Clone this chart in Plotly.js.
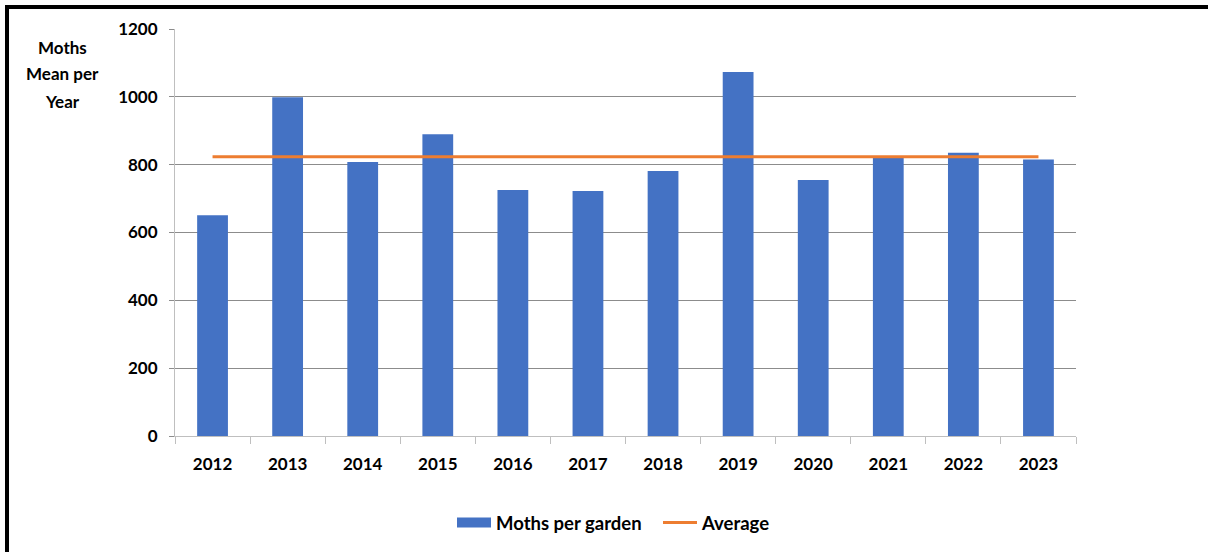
<!DOCTYPE html>
<html>
<head>
<meta charset="utf-8">
<script src="https://cdn.plot.ly/plotly-3.0.1.min.js"></script>
<style>
html,body{margin:0;padding:0;background:#fff;}
#chart{position:absolute;left:0;top:0;width:1208px;height:552px;}
#frame{position:absolute;left:5px;top:5px;width:1203px;height:547px;border-top:4px solid #000;border-left:4px solid #000;pointer-events:none;box-sizing:border-box;}
</style>
</head>
<body>
<div id="chart"></div>
<div id="frame"></div>
<script>
const years = ["2012","2013","2014","2015","2016","2017","2018","2019","2020","2021","2022","2023"];
const mothsPerGarden = [651, 999, 808, 890, 725, 722, 781, 1073, 755, 820, 835, 815];
const averageValue = [823, 823, 823, 823, 823, 823, 823, 823, 823, 823, 823, 823];
const yTicks = [0, 200, 400, 600, 800, 1000, 1200];
const yTitleLines = ["Moths", "Mean per", "Year"];

const font = "Lato, 'Open Sans', sans-serif";
const BLUE = "#4472C4", ORANGE = "#ED7D31";

const traces = [
  {type: "bar", x: years, y: mothsPerGarden, name: "Moths per garden",
   marker: {color: BLUE}, showlegend: false},
  // legend key for the bars (wide rectangle like the original)
  {type: "scatter", mode: "lines", x: [null], y: [null], name: "Moths per garden",
   line: {color: BLUE, width: 12}, showlegend: true, legend: "legend"},
  {type: "scatter", mode: "lines", x: years, y: averageValue, name: "Average",
   line: {color: ORANGE, width: 3}, showlegend: true, legend: "legend2"}
];

const titleYs = [0.955, 0.891, 0.823];
const annotations = yTitleLines.map((t, i) => ({
  text: t, xref: "paper", yref: "paper",
  x: -0.1254, y: titleYs[i], xanchor: "center", yanchor: "middle",
  showarrow: false, align: "center",
  font: {family: font, size: 17, color: "#000", weight: "bold"}
}));

const legendBase = {
  orientation: "h",
  xref: "container", yref: "container",
  xanchor: "left",
  y: 0.0525, yanchor: "middle",
  font: {family: font, size: 18.5, color: "#000", weight: "bold"},
  itemwidth: 34,
  bgcolor: "rgba(0,0,0,0)"
};

const layout = {
  width: 1208, height: 552,
  margin: {l: 175, r: 132, t: 29, b: 116},
  paper_bgcolor: "#fff", plot_bgcolor: "#fff",
  font: {family: font, size: 17, color: "#000", weight: "bold"},
  bargap: 0.59,
  showlegend: true,
  hovermode: false,
  xaxis: {
    type: "category",
    tickson: "boundaries",
    ticks: "outside", ticklen: 7, tickcolor: "#bfbfbf", tickwidth: 1,
    showline: true, linecolor: "#bfbfbf", linewidth: 1,
    showgrid: false, zeroline: false,
    tickfont: {family: font, size: 17, color: "#000", weight: "bold"},
    ticklabelstandoff: 13
  },
  yaxis: {
    range: [0, 1200],
    tickmode: "array", tickvals: yTicks, ticktext: yTicks.map(String),
    ticks: "outside", ticklen: 5, tickcolor: "#8c8c8c",
    showline: true, linecolor: "#bfbfbf", linewidth: 1,
    showgrid: true, gridcolor: "#8c8c8c", gridwidth: 1,
    zeroline: false,
    tickfont: {family: font, size: 17, color: "#000", weight: "bold"},
    ticklabelstandoff: 8
  },
  legend: Object.assign({}, legendBase, {x: 452 / 1208}),
  legend2: Object.assign({}, legendBase, {x: 658 / 1208}),
  annotations: annotations
};

Plotly.newPlot("chart", traces, layout, {staticPlot: true, displayModeBar: false});
</script>
</body>
</html>
